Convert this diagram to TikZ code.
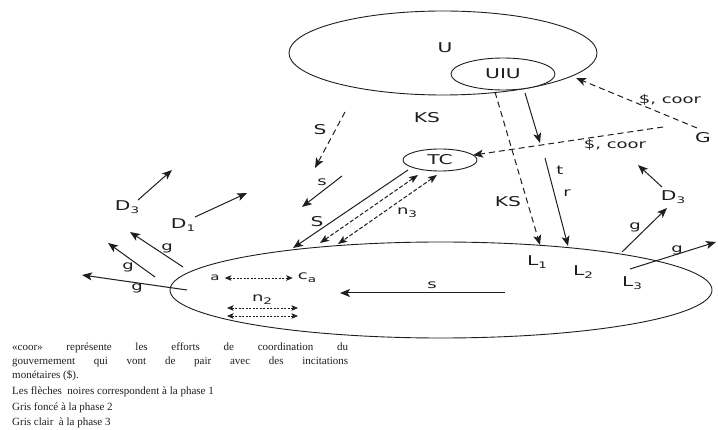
\documentclass[tikz,border=0pt]{standalone}
\usepackage{fontspec}
\setmainfont{Liberation Serif}
\newfontfamily\lblfont[FakeStretch=1.5]{DejaVu Sans}
\usetikzlibrary{shapes.geometric,arrows.meta}
\definecolor{ink}{HTML}{1E1E1E}
\newcommand\lsub[1]{\raisebox{-0.45ex}{\fontsize{9}{9}\selectfont #1}}
\begin{document}
\begin{tikzpicture}[x=1pt,y=-1pt,
  ln/.style={draw=ink, line width=1pt},
  arr/.style={ln,-{Stealth[length=10pt,width=8pt,inset=2.5pt]}},
  darr/.style={arr,dash pattern=on 6pt off 4pt},
  dbl/.style={ln,dash pattern=on 4pt off 2pt,{Stealth[length=9pt,width=7pt,inset=2pt]}-{Stealth[length=9pt,width=7pt,inset=2pt]}},
  sdbl/.style={draw=ink,line width=0.6pt,dash pattern=on 2pt off 1.5pt,{Stealth[length=6.5pt,width=5.5pt,inset=1.5pt]}-{Stealth[length=6.5pt,width=5.5pt,inset=1.5pt]}},
  lbl/.style={font=\lblfont\fontsize{13.5}{15}\selectfont, text=ink, inner sep=0pt},
  slbl/.style={font=\lblfont\fontsize{12}{13}\selectfont, text=ink, inner sep=0pt},
  ell/.style={ellipse, draw=ink, line width=0.9pt, inner sep=0pt, outer sep=0pt},
  note/.style={font=\fontsize{11}{14}\selectfont, text=ink, inner sep=0pt},
]
\useasboundingbox (0,0) rectangle (718,430);

% ellipses
\node[ell, minimum width=308, minimum height=84] (U) at (443,53) {};
\node[lbl] (Ulbl) at (445,48) {U};
\node[ell, fill=white, minimum width=104, minimum height=32, lbl] (UIU) at (503,74) {UIU};
\node[ell, minimum width=74, minimum height=22, lbl] (TC) at (440,160) {TC};
\node[ell, minimum width=542, minimum height=96] (L) at (441,290) {};

% labels
\node[lbl] (KS) at (427,118) {KS};
\node[lbl] (Sd) at (320,130) {S};
\node[slbl] (s1) at (322,182) {s};
\node[lbl] (S2) at (317,222) {S};
\node[slbl] (n3) at (407,213) {n\lsub{3}};
\node[lbl] (KS2) at (508,202) {KS};
\node[slbl] (t) at (560,170) {t};
\node[slbl] (r) at (567,193) {r};
\node[slbl] (coor1) at (670,100) {\$, coor};
\node[slbl] (coor2) at (615,145) {\$, coor};
\node[lbl] (G) at (703,138) {G};
\node[lbl] (D3r) at (673,197) {D\lsub{3}};
\node[slbl] (g1) at (635,227) {g};
\node[slbl] (g2) at (677,250) {g};
\node[lbl] (L1) at (537,262) {L\lsub{1}};
\node[lbl] (L2) at (583,272) {L\lsub{2}};
\node[lbl] (L3) at (632,283) {L\lsub{3}};
\node[lbl] (D3l) at (127,207) {D\lsub{3}};
\node[lbl] (D1) at (183,225) {D\lsub{1}};
\node[slbl] (g3) at (137,288) {g};
\node[slbl] (g4) at (128,267) {g};
\node[slbl] (g5) at (167,248) {g};
\node[slbl, font=\lblfont\fontsize{10}{12}\selectfont] (a) at (215,278) {a};
\node[slbl] (ca) at (307,278) {c\lsub{a}};
\node[slbl] (n2) at (262,300) {n\lsub{2}};
\node[slbl] (s2) at (432,285) {s};

% coordinates for free ends
\coordinate (ks0) at (495,92);
\coordinate (ks1) at (540,245);
\coordinate (u0) at (525,93);
\coordinate (u1) at (540,143);
\coordinate (t0) at (545,158);
\coordinate (t1) at (568,246);
\coordinate (gA) at (697,128);
\coordinate (uhit) at (576,78);
\coordinate (gB) at (663,127);
\coordinate (S0) at (345,112);
\coordinate (S1) at (315,168);
\coordinate (s0) at (342,176);
\coordinate (s1e) at (302,207);
\coordinate (tc1) at (408,170);
\coordinate (tc1e) at (293,248);
\coordinate (tc2) at (418,175);
\coordinate (tc2e) at (320,243);
\coordinate (tc3) at (437,175);
\coordinate (tc3e) at (338,244);
\coordinate (d3a) at (662,187);
\coordinate (d3b) at (638,165);
\coordinate (gr1a) at (622,252);
\coordinate (gr1b) at (667,208);
\coordinate (gr2a) at (630,269);
\coordinate (gr2b) at (716,242);
\coordinate (gl1a) at (187,290);
\coordinate (gl1b) at (82,275);
\coordinate (gl2a) at (155,277);
\coordinate (gl2b) at (108,243);
\coordinate (gl3a) at (183,267);
\coordinate (gl3b) at (130,232);
\coordinate (dl3a) at (138,200);
\coordinate (dl3b) at (172,170);
\coordinate (dl1a) at (195,217);
\coordinate (dl1b) at (247,193);
\coordinate (n2a) at (227,308);
\coordinate (n2b) at (298,308);
\coordinate (n2c) at (227,316);
\coordinate (n2d) at (298,316);
\coordinate (sa) at (505,293);
\coordinate (sb) at (340,293);

% connectors
\draw[darr] (ks0) -- (ks1);
\draw[arr] (u0) -- (u1);
\draw[arr] (t0) -- (t1);
\draw[darr] (gA) -- (uhit);
\draw[darr] (gB) -- (TC);
\draw[darr] (S0) -- (S1);
\draw[arr] (s0) -- (s1e);
\draw[arr] (tc1) -- (tc1e);
\draw[dbl] (tc2) -- (tc2e);
\draw[dbl] (tc3) -- (tc3e);
\draw[arr] (d3a) -- (d3b);
\draw[arr] (gr1a) -- (gr1b);
\draw[arr] (gr2a) -- (gr2b);
\draw[arr] (gl1a) -- (gl1b);
\draw[arr] (gl2a) -- (gl2b);
\draw[arr] (gl3a) -- (gl3b);
\draw[arr] (dl3a) -- (dl3b);
\draw[arr] (dl1a) -- (dl1b);
\draw[sdbl] ([xshift=5pt]a.east) -- ([xshift=-5pt]ca.west);
\draw[sdbl] (n2a) -- (n2b);
\draw[sdbl] (n2c) -- (n2d);
\draw[arr] (sa) -- (sb);

% note text
\node[note, anchor=north west, text width=336pt, align=justify] (para) at (12,343)
  {«coor» représente les efforts de coordination du\linebreak gouvernement qui vont de pair avec des incitations\linebreak monétaires (\$).};
\node[note, anchor=base west] (ln4) at (12,395) {Les flèches\ \ noires correspondent\ à la phase 1};
\node[note, anchor=base west] (ln5) at (12,410.5) {Gris foncé à la phase 2};
\node[note, anchor=base west] (ln6) at (12,425.5) {Gris clair\ \ à la phase 3};
\end{tikzpicture}
\end{document}
